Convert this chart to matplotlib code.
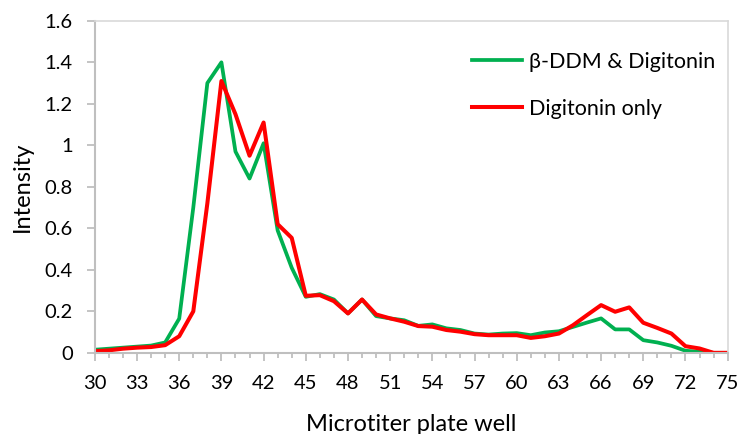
import matplotlib
matplotlib.use('Agg')
import matplotlib.pyplot as plt
from matplotlib.ticker import MultipleLocator, FuncFormatter

plt.rcParams['font.family'] = ['Lato', 'DejaVu Sans']

# microtiter plate wells 30..75
wells = list(range(30, 76))

ddm_digitonin = [0.015, 0.02, 0.025, 0.03, 0.035, 0.05, 0.165, 0.70, 1.30, 1.40,
                 0.97, 0.84, 1.01, 0.59, 0.41, 0.27, 0.283, 0.257, 0.19, 0.257,
                 0.177, 0.166, 0.157, 0.13, 0.137, 0.118, 0.11, 0.093, 0.088, 0.093,
                 0.095, 0.085, 0.098, 0.104, 0.125, 0.146, 0.166, 0.113, 0.113, 0.061,
                 0.05, 0.034, 0.01, 0.005, 0.0, 0.0]

digitonin_only = [0.008, 0.012, 0.02, 0.025, 0.028, 0.037, 0.08, 0.20, 0.72, 1.31,
                  1.15, 0.95, 1.11, 0.62, 0.554, 0.275, 0.278, 0.249, 0.19, 0.257,
                  0.185, 0.166, 0.15, 0.129, 0.126, 0.11, 0.102, 0.09, 0.085, 0.085,
                  0.085, 0.072, 0.08, 0.093, 0.133, 0.182, 0.23, 0.198, 0.219, 0.145,
                  0.12, 0.093, 0.032, 0.021, 0.0, 0.0]

C_GREEN = '#00B050'
C_RED = '#FF0000'
C_AXIS = '#BFBFBF'
C_BORDER = '#D9D9D9'

fig = plt.figure(figsize=(7.41, 4.34), dpi=100)
ax = fig.add_axes([0.128, 0.187, 0.854, 0.765])

ax.plot(wells, ddm_digitonin, color=C_GREEN, lw=2.7, label='β-DDM & Digitonin')
ax.plot(wells, digitonin_only, color=C_RED, lw=2.9, label='Digitonin only')

ax.set_xlim(30, 75)
ax.set_ylim(0, 1.6)
ax.xaxis.set_major_locator(MultipleLocator(3))
ax.xaxis.set_minor_locator(MultipleLocator(1))
ax.yaxis.set_major_locator(MultipleLocator(0.2))
ax.yaxis.set_major_formatter(FuncFormatter(lambda v, p: '%g' % round(v, 2)))

for side in ('left', 'bottom'):
    ax.spines[side].set_color(C_AXIS)
    ax.spines[side].set_linewidth(1.5)
for side in ('top', 'right'):
    ax.spines[side].set_color(C_BORDER)
    ax.spines[side].set_linewidth(1.2)

ax.tick_params(axis='both', which='major', labelsize=14.5, color=C_AXIS,
               width=1.3, length=6)
ax.tick_params(axis='x', which='major', pad=10)
ax.tick_params(axis='x', which='minor', color=C_AXIS, width=1.3, length=3.5)
ax.tick_params(axis='y', which='major', pad=10)

ax.set_xlabel('Microtiter plate well', fontsize=17, labelpad=16)
ax.set_ylabel('Intensity', fontsize=17, labelpad=8)

ax.legend(loc='upper left', bbox_to_anchor=(0.565, 0.965), frameon=False,
          fontsize=15.5, handlelength=2.35, handletextpad=0.3, labelspacing=1.25)

fig.savefig('out.png', dpi=100)
